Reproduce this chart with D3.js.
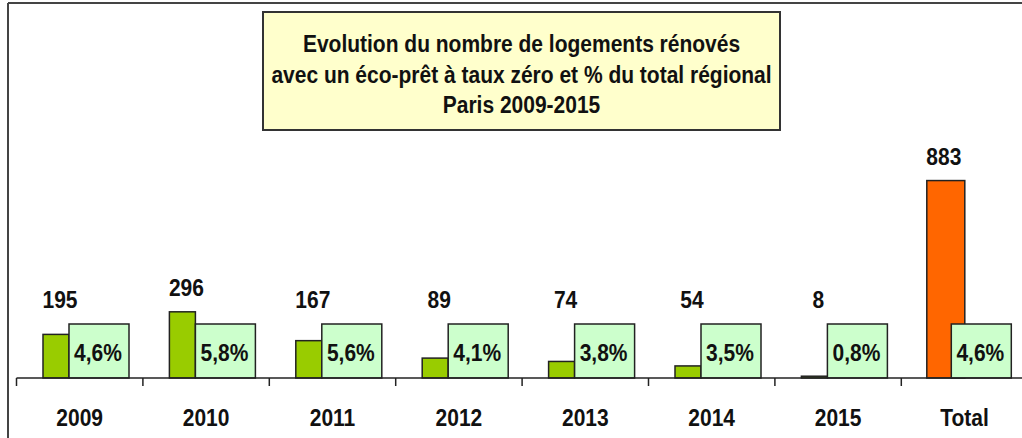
<!DOCTYPE html>
<html>
<head>
<meta charset="utf-8">
<script src="https://cdn.jsdelivr.net/npm/d3@7"></script>
<style>
  html, body { margin: 0; padding: 0; background: #fff; }
  svg { display: block; }
  text { font-family: 'Liberation Sans', Arial, sans-serif; font-weight: bold; fill: #111; }
</style>
</head>
<body>
<div id="chart"></div>
<script>
// Eco-prêt à taux zéro, Paris 2009-2015
const categories = ['2009', '2010', '2011', '2012', '2013', '2014', '2015', 'Total'];
const logements = [195, 296, 167, 89, 74, 54, 8, 883];
const partRegion = ['4,6%', '5,8%', '5,6%', '4,1%', '3,8%', '3,5%', '0,8%', '4,6%'];
const titleLines = [
  'Evolution du nombre de logements rénovés',
  'avec un éco-prêt à taux zéro et % du total régional',
  'Paris 2009-2015'
];

const W = 1022, H = 438;
const axisY = 378;
const boxH = 54;
// text in the source is slightly condensed / taller than plain Arial
const FS = 24, SX = 0.875;
const place = (px, py) => `translate(${px},${py}) scale(${SX},1)`;

const svg = d3.select('#chart').append('svg')
  .attr('width', W).attr('height', H);

// outer frame (cropped on right/bottom)
svg.append('line').attr('x1', 8).attr('x2', W).attr('y1', 3).attr('y2', 3)
  .attr('stroke', '#444').attr('stroke-width', 2);
svg.append('line').attr('x1', 8).attr('x2', 8).attr('y1', 3).attr('y2', H)
  .attr('stroke', '#444').attr('stroke-width', 2);

const x = d3.scaleBand().domain(categories).range([16.5, 16.5 + 8 * 126.4]).padding(0);
const y = d3.scaleLinear().domain([0, 1000]).range([axisY, axisY - 223.6]);

const isTotal = d => d === 'Total';
const barX = d => x(d) + (isTotal(d) ? 25.5 : 26.5);
const barW = d => isTotal(d) ? 38 : 26;
const boxX = d => x(d) + (isTotal(d) ? 50 : 52.5);
const boxW = 60;

const data = categories.map((c, i) => ({ c, v: logements[i], p: partRegion[i] }));

// bars
svg.append('g').selectAll('rect').data(data).join('rect')
  .attr('x', d => barX(d.c))
  .attr('y', d => y(d.v))
  .attr('width', d => barW(d.c))
  .attr('height', d => axisY - y(d.v))
  .attr('fill', d => isTotal(d.c) ? '#ff6600' : '#99cc00')
  .attr('stroke', '#222').attr('stroke-width', 1.5);

// percentage boxes
svg.append('g').selectAll('rect').data(data).join('rect')
  .attr('x', d => boxX(d.c))
  .attr('y', axisY - boxH)
  .attr('width', boxW)
  .attr('height', boxH)
  .attr('fill', '#ccffcc')
  .attr('stroke', '#222').attr('stroke-width', 1.5);

svg.append('g').selectAll('text').data(data).join('text')
  .attr('transform', d => place(boxX(d.c) + boxW / 2 - 1, 361))
  .attr('text-anchor', 'middle')
  .attr('font-size', FS)
  .text(d => d.p);

// value labels
svg.append('g').selectAll('text').data(data).join('text')
  .attr('transform', d => place(
    barX(d.c) + barW(d.c) / 2 + (isTotal(d.c) ? -2 : 4),
    Math.min(y(d.v), axisY - boxH) - 16))
  .attr('text-anchor', 'middle')
  .attr('font-size', FS)
  .text(d => d.v);

// category axis
svg.append('line').attr('x1', 16.5).attr('x2', W).attr('y1', axisY).attr('y2', axisY)
  .attr('stroke', '#222').attr('stroke-width', 1.5);
svg.append('g').selectAll('line').data(categories).join('line')
  .attr('x1', d => x(d)).attr('x2', d => x(d))
  .attr('y1', axisY).attr('y2', axisY + 8)
  .attr('stroke', '#222').attr('stroke-width', 1.5);
svg.append('g').selectAll('text').data(categories).join('text')
  .attr('transform', d => place(x(d) + x.bandwidth() / 2, 426))
  .attr('text-anchor', 'middle')
  .attr('font-size', FS)
  .text(d => d);

// title box
svg.append('rect')
  .attr('x', 263).attr('y', 12).attr('width', 517).attr('height', 118)
  .attr('fill', '#ffffcc').attr('stroke', '#333').attr('stroke-width', 2);
svg.append('g').selectAll('text').data(titleLines).join('text')
  .attr('transform', (d, i) => place(521.5, 52 + i * 30.5))
  .attr('text-anchor', 'middle')
  .attr('font-size', FS)
  .text(d => d);
</script>
</body>
</html>
